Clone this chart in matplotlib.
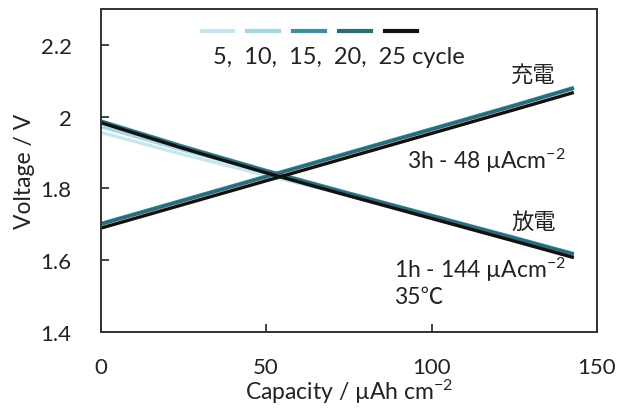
import matplotlib
matplotlib.use("Agg")
import matplotlib.pyplot as plt
from matplotlib.lines import Line2D

plt.rcParams['font.family'] = ['Lato', 'Noto Sans CJK JP', 'DejaVu Sans']
plt.rcParams['mathtext.fontset'] = 'custom'
plt.rcParams['mathtext.rm'] = 'Lato'
plt.rcParams['mathtext.it'] = 'Lato'
plt.rcParams['mathtext.default'] = 'regular'

# ---- data ----
capacity = [0, 25, 50, 75, 100, 125, 143]
cycles = ["5", "10", "15", "20", "25"]
colors = ["#c6e7ef", "#a6d6e2", "#3d8e9f", "#2d6b78", "#111111"]

charge = {
    "5":  [1.698, 1.764, 1.830, 1.896, 1.962, 2.028, 2.077],
    "10": [1.700, 1.766, 1.832, 1.898, 1.964, 2.030, 2.079],
    "15": [1.702, 1.768, 1.834, 1.900, 1.966, 2.032, 2.081],
    "20": [1.700, 1.766, 1.832, 1.898, 1.964, 2.030, 2.079],
    "25": [1.689, 1.755, 1.821, 1.887, 1.953, 2.019, 2.067],
}
discharge = {
    "5":  [1.956, 1.894, 1.836, 1.780, 1.722, 1.662, 1.616],
    "10": [1.972, 1.906, 1.845, 1.785, 1.724, 1.663, 1.617],
    "15": [1.988, 1.917, 1.850, 1.787, 1.725, 1.663, 1.618],
    "20": [1.986, 1.915, 1.848, 1.785, 1.723, 1.661, 1.616],
    "25": [1.983, 1.911, 1.843, 1.779, 1.716, 1.653, 1.607],
}
xticks = [0, 50, 100, 150]
yticks = [1.4, 1.6, 1.8, 2.0, 2.2]
yticklabels = ["1.4", "1.6", "1.8", "2", "2.2"]

fig = plt.figure(figsize=(6.18, 4.10), dpi=100)
ax = fig.add_axes([0.163, 0.188, 0.803, 0.788])

for c, col in zip(cycles, colors):
    ax.plot(capacity, charge[c], color=col, lw=2.4, solid_capstyle='butt')
    ax.plot(capacity, discharge[c], color=col, lw=2.4, solid_capstyle='butt')

ax.set_xlim(0, 150)
ax.set_ylim(1.4, 2.3)
ax.set_xticks(xticks)
ax.set_yticks(yticks)
ax.set_yticklabels(yticklabels)
ax.tick_params(direction='in', length=6, width=1.2, labelsize=16, colors='#222222')
ax.tick_params(axis='y', pad=21)
ax.tick_params(axis='x', pad=18)
for s in ax.spines.values():
    s.set_linewidth(1.4)
    s.set_color('#333333')

ax.set_xlabel(r"Capacity / µAh cm$^{-2}$", fontsize=16.5, color='#222222', labelpad=0)
ax.set_ylabel("Voltage / V", fontsize=16.5, color='#222222', labelpad=4)

# legend
handles = [Line2D([0], [0], color=col, lw=3) for col in colors]
ax.legend(handles, [""] * 5, ncol=5, loc='center', bbox_to_anchor=(0.42, 0.93),
          frameon=False, handlelength=2.3, handletextpad=0.0, columnspacing=1.0,
          fontsize=10)
ax.text(0.226, 0.853, "5,  10,  15,  20,  25 cycle", transform=ax.transAxes,
        fontsize=17, va='center', ha='left', color='#222222')

ax.text(130.5, 2.117, "充電", fontsize=16, ha='center', va='center', color='#222222')
ax.text(92.5, 1.88, r"3h - 48 µAcm$^{-2}$", fontsize=16.5, ha='left', va='center', color='#222222')
ax.text(131.0, 1.708, "放電", fontsize=16, ha='center', va='center', color='#222222')
ax.text(88.5, 1.575, r"1h - 144 µAcm$^{-2}$", fontsize=16.5, ha='left', va='center', color='#222222')
ax.text(88.5, 1.50, "35℃", fontsize=16.5, ha='left', va='center', color='#222222')

fig.savefig("out.png", dpi=100)
